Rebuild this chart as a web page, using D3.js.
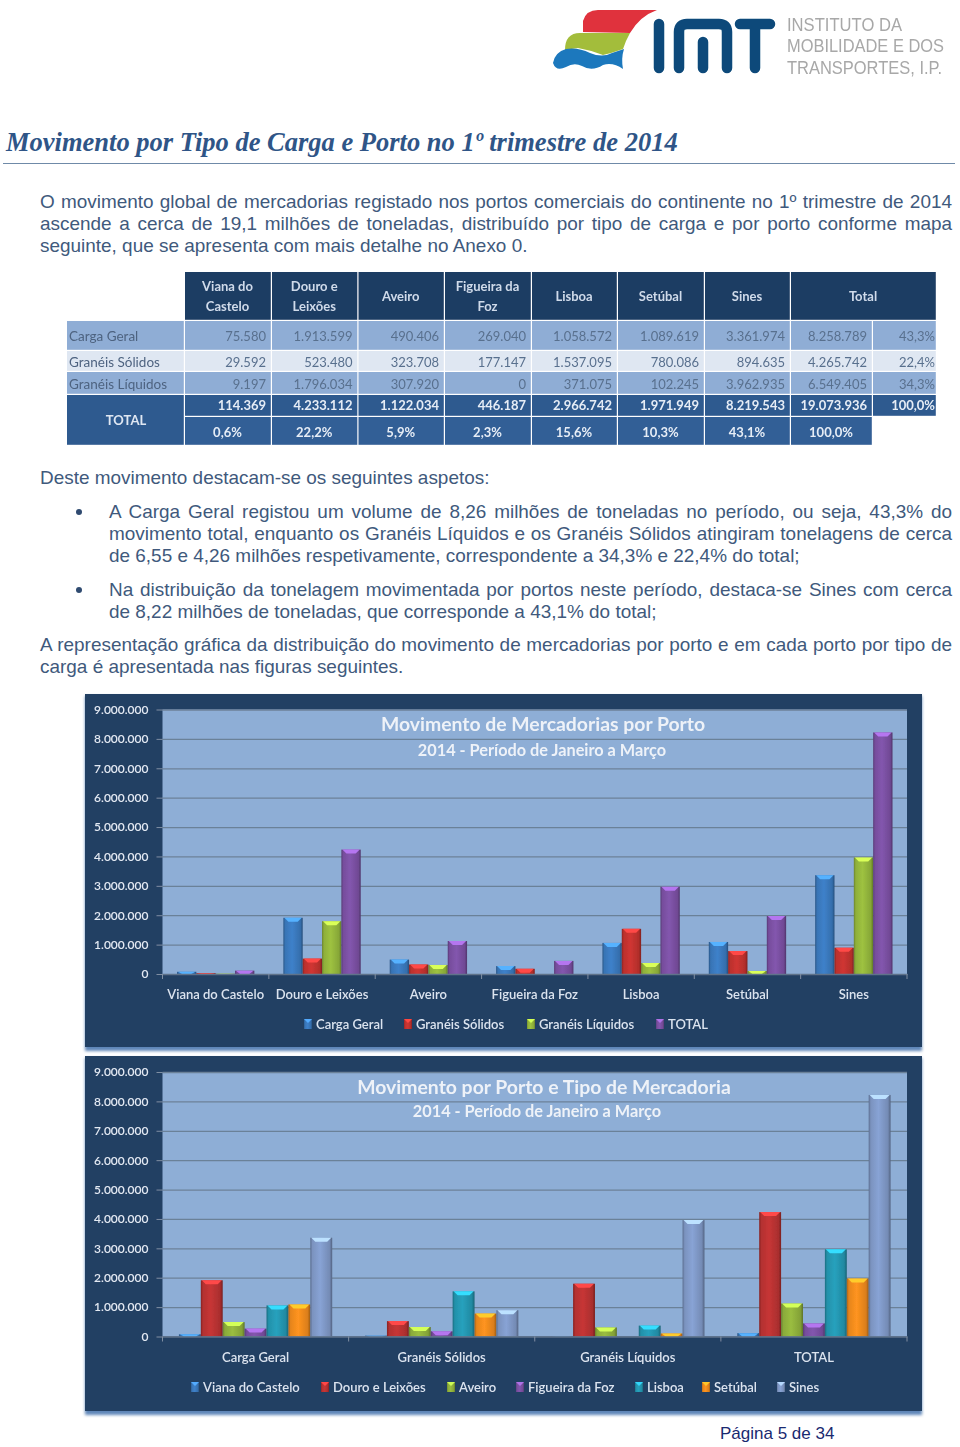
<!DOCTYPE html>
<html><head><meta charset="utf-8">
<script src="https://cdn.jsdelivr.net/npm/d3@7/dist/d3.min.js"></script>
<style>html,body{margin:0;padding:0;background:#fff}svg{display:block}</style>
</head><body><svg id="page" width="960" height="1447"></svg>
<script>
const ports = ["Viana do Castelo","Douro e Leixões","Aveiro","Figueira da Foz","Lisboa","Setúbal","Sines"];
const cargoTypes = ["Carga Geral","Granéis Sólidos","Granéis Líquidos","TOTAL"];
const cargaGeral = [75580,1913599,490406,269040,1058572,1089619,3361974];
const graneisSolidos = [29592,523480,323708,177147,1537095,780086,894635];
const graneisLiquidos = [9197,1796034,307920,0,371075,102245,3962935];
const totalPorPorto = [114369,4233112,1122034,446187,2966742,1971949,8219543];
const rowTotals = [8258789,4265742,6549405,19073936];
const rowShares = ["43,3%","22,4%","34,3%","100,0%"];
const portShares = ["0,6%","22,2%","5,9%","2,3%","15,6%","10,3%","43,1%","100,0%"];
const tableHeaders = [["Viana do","Castelo"],["Douro e","Leixões"],["Aveiro"],["Figueira da","Foz"],["Lisboa"],["Setúbal"],["Sines"],["Total"]];
const yTicks = [0,1000000,2000000,3000000,4000000,5000000,6000000,7000000,8000000,9000000];
const cargoColors = ["#3a78bc","#c2322f","#93b53c","#7a50a2"];
const portColors = ["#3a78bc","#b93232","#8fb03c","#7a50a2","#2496b0","#ee8a1e","#7f98c6"];

const bodyLines = [
 {t:"O movimento global de mercadorias registado nos portos comerciais do continente no 1º trimestre de 2014",x:40,y:208,j:1},
 {t:"ascende a cerca de 19,1 milhões de toneladas, distribuído por tipo de carga e por porto conforme mapa",x:40,y:230,j:1},
 {t:"seguinte, que se apresenta com mais detalhe no Anexo 0.",x:40,y:252},
 {t:"Deste movimento destacam-se os seguintes aspetos:",x:40,y:484},
 {t:"A Carga Geral registou um volume de 8,26 milhões de toneladas no período, ou seja, 43,3% do",x:109,y:518,j:1},
 {t:"movimento total, enquanto os Granéis Líquidos e os Granéis Sólidos atingiram tonelagens de cerca",x:109,y:540,j:1},
 {t:"de 6,55 e 4,26 milhões respetivamente, correspondente a 34,3% e 22,4% do total;",x:109,y:562},
 {t:"Na distribuição da tonelagem movimentada por portos neste período, destaca-se Sines com cerca",x:109,y:596,j:1},
 {t:"de 8,22 milhões de toneladas, que corresponde a 43,1% do total;",x:109,y:618},
 {t:"A representação gráfica da distribuição do movimento de mercadorias por porto e em cada porto por tipo de",x:40,y:651,j:1},
 {t:"carga é apresentada nas figuras seguintes.",x:40,y:673}
];

const svg = d3.select("#page");
const defs = svg.append("defs");
const soft = defs.append("filter").attr("id","soft").attr("x","-2%").attr("y","-2%").attr("width","104%").attr("height","104%");
soft.append("feGaussianBlur").attr("stdDeviation",0.45);
const shadow = defs.append("filter").attr("id","shadow").attr("x","-2%").attr("y","-5%").attr("width","104%").attr("height","110%");
shadow.append("feGaussianBlur").attr("stdDeviation",1.6);
const sans = "'Liberation Sans',Arial,sans-serif", cal = "Lato,'Open Sans',sans-serif";
const fmt = d3.formatLocale({decimal:",",thousands:".",grouping:[3],currency:["",""]}).format(",d");

// logo
const logo = svg.append("g").attr("filter","url(#soft)");
logo.append("path").attr("fill","#e0313c").attr("d","M583,32 L583,21 Q586,10 598,10 L657,10 Q640,16 630,33 Z");
logo.append("path").attr("fill","#a3bd3a").attr("d","M565,50 Q565,33 580,33 L630,33 Q626,40 623,49 Q612,53 603,55 Q590,50 578,48 Z");
logo.append("path").attr("fill","#1b78bd").attr("d","M553,63 Q555,52 566,49 Q578,47 590,53 Q602,58 612,53 L624,49 Q621,58 623,69 Q613,62 603,65 Q592,72 582,66 Q574,62 566,67 Q556,72 553,63 Z");
logo.append("path").attr("fill","none").attr("stroke","#0c4a7a").attr("stroke-width",10.5).attr("stroke-linecap","round").attr("stroke-linejoin","round")
  .attr("d","M659,24 L659,68 M679,68 L679,32 Q679,24 687,24 L719,24 Q727,24 727,32 L727,68 M703,42 L703,68 M740,24 L770,24 M755,24 L755,68");
["INSTITUTO DA","MOBILIDADE E DOS","TRANSPORTES, I.P."].forEach((t,i)=>{
  const w=[115,157,155][i];
  logo.append("text").attr("x",787).attr("y",[31,52,74][i]).attr("font-family",sans).attr("font-size",18).attr("fill","#a8a8a8")
   .attr("textLength",w).attr("lengthAdjust","spacingAndGlyphs").text(t);
});

// heading
svg.append("text").attr("x",6).attr("y",151).attr("font-family","'Liberation Serif',serif").attr("font-weight","bold").attr("font-style","italic")
 .attr("font-size",26.5).attr("fill","#2f5587").text("Movimento por Tipo de Carga e Porto no 1º trimestre de 2014");
svg.append("line").attr("x1",3).attr("x2",955).attr("y1",163.5).attr("y2",163.5).attr("stroke","#6f8aa8").attr("stroke-width",1.2);

// body
bodyLines.forEach(l=>{
  const n = svg.append("text").attr("x",l.x).attr("y",l.y).attr("font-family",sans).attr("font-size",18.95).attr("fill","#40597c").text(l.t);
  if(l.j){
    const gaps=l.t.split(" ").length-1;
    n.attr("word-spacing",(952-l.x-n.node().getComputedTextLength())/gaps);
  }
});
[512,590].forEach(y=>svg.append("circle").attr("cx",79).attr("cy",y).attr("r",3).attr("fill","#2f4a70"));
svg.append("text").attr("x",720).attr("y",1439).attr("font-family",sans).attr("font-size",17).attr("fill","#1a2a70").text("Página 5 de 34");

// table
(function(){
  const xs=[67,185,272,358.5,445,532,618,705,791,873,937];
  const ys=[272,321,351,372,395,417,446];
  const g=svg.append("g").attr("font-family",cal).attr("filter","url(#soft)");
  const cell=(i,j,w,h,fill)=>g.append("rect").attr("x",xs[i]).attr("y",ys[j]).attr("width",xs[i+w]-xs[i]-1.2).attr("height",ys[j+h]-ys[j]-1.2).attr("fill",fill);
  const txt=(x,y,t,o)=>g.append("text").attr("x",x).attr("y",y).attr("font-size",o.s||13).attr("font-weight",o.b?"bold":"normal").attr("text-anchor",o.a||"middle").attr("fill",o.f).attr("dy","0.35em").text(t);
  tableHeaders.forEach((h,i)=>{
    const span=i===7?2:1; cell(i+1,0,span,1,"#1f3d64");
    const cx=(xs[i+1]+xs[i+1+span])/2-1;
    h.forEach((t,k)=>txt(cx,296.5+(h.length===1?0:(k-.5)*19.5),t,{b:1,f:"#cfdbea"}));
  });
  const rows=[cargaGeral,graneisSolidos,graneisLiquidos];
  rows.forEach((r,j)=>{
    const bg=j===1?"#dfe7f2":"#8fadd5", fg="#59708e";
    for(let i=0;i<10;i++) cell(i,j+1,1,1,bg);
    const cy=(ys[j+1]+ys[j+2])/2+0.5;
    txt(69,cy,cargoTypes[j],{a:"start",f:"#4e6380",s:13.5});
    r.forEach((v,i)=>txt(xs[i+2]-6,cy,fmt(v),{a:"end",f:fg}));
    txt(xs[9]-6,cy,fmt(rowTotals[j]),{a:"end",f:fg});
    txt(xs[10]-2,cy,rowShares[j],{a:"end",f:fg});
  });
  cell(0,4,1,2,"#2f5a8f");
  txt(126,420.5,"TOTAL",{b:1,f:"#dfe7f2"});
  for(let i=1;i<10;i++) cell(i,4,1,1,"#2f5a8f");
  for(let i=1;i<9;i++) cell(i,5,1,1,"#335f96");
  totalPorPorto.forEach((v,i)=>txt(xs[i+2]-6,405.5,fmt(v),{a:"end",b:1,f:"#e6edf6"}));
  txt(xs[9]-6,405.5,fmt(rowTotals[3]),{a:"end",b:1,f:"#e6edf6"});
  txt(xs[10]-2,405.5,rowShares[3],{a:"end",b:1,f:"#e6edf6"});
  portShares.forEach((t,i)=>txt((xs[i+1]+xs[i+2])/2-1,432,t,{b:1,f:"#e6edf6"}));
})();

function gradientFor(c,id){
  const base=d3.color(c);
  const gr=defs.append("linearGradient").attr("id",id).attr("x1",0).attr("x2",1).attr("y1",0).attr("y2",0);
  [[0,base.darker(.9)],[.1,base.darker(.1)],[.45,base.brighter(.2)],[.88,base.darker(.25)],[1,base.darker(1.2)]]
   .forEach(([o,k])=>gr.append("stop").attr("offset",o).attr("stop-color",k.formatHex()));
  return `url(#${id})`;
}

function barChart(o){
  const {top,bottom,plotTop,categories,series,names,colors,title,sub,titleCx,subCx,titleY,subY,legendX,legendY,labelY,gapFrac,prefix}=o;
  const pL=85,pR=922;
  svg.append("rect").attr("x",pL).attr("y",top+2).attr("width",pR-pL).attr("height",bottom-top+2).attr("fill","#5f86b8").attr("filter","url(#shadow)");
  const g=svg.append("g").attr("filter","url(#soft)");
  g.append("rect").attr("x",pL).attr("y",top).attr("width",pR-pL).attr("height",bottom-top).attr("fill","#243f63");
  const x=d3.scaleBand().domain(categories).range([162.5,907]);
  const y=d3.scaleLinear().domain([0,9000000]).range([plotTop+264.5,plotTop]);
  g.append("rect").attr("x",162.5).attr("y",plotTop).attr("width",907-162.5).attr("height",264.5).attr("fill","#8eaed6");
  const ax=g.append("g").attr("transform","translate(162.5,0)").call(d3.axisLeft(y).tickValues(yTicks).tickFormat(fmt).tickSize(6).tickPadding(8));
  ax.select(".domain").remove();
  ax.selectAll("text").attr("font-family",cal).attr("font-size",12).attr("font-weight","600").attr("fill","#e3eaf3");
  ax.selectAll("line").attr("stroke","#7f8fa3");
  const grid=g.append("g").attr("transform","translate(162.5,0)").call(d3.axisRight(y).tickValues(yTicks.slice(1)).tickSize(907-162.5).tickFormat(""));
  grid.select(".domain").remove();
  grid.selectAll("line").attr("stroke","#6b8198").attr("stroke-width",1.3);
  g.append("text").attr("x",titleCx).attr("y",titleY).attr("text-anchor","middle").attr("dy","0.35em").attr("font-family",cal).attr("font-weight","bold").attr("font-size",19.4).attr("fill","#eef2f8").text(title);
  g.append("text").attr("x",subCx).attr("y",subY).attr("text-anchor","middle").attr("dy","0.35em").attr("font-family",cal).attr("font-weight","bold").attr("font-size",16.3).attr("fill","#eef2f8").text(sub);
  const inner=d3.scaleBand().domain(d3.range(series.length)).range([0,x.bandwidth()]).paddingOuter(gapFrac).paddingInner(0);
  const fills=colors.map((c,i)=>gradientFor(c,prefix+i));
  series.forEach((vals,si)=>{
    const sg=g.append("g");
    const data=vals.map((v,ci)=>({v,c:categories[ci]})).filter(d=>d.v>0);
    sg.selectAll("rect").data(data).join("rect")
      .attr("x",d=>x(d.c)+inner(si)).attr("width",inner.bandwidth())
      .attr("y",d=>y(d.v)).attr("height",d=>y(0)-y(d.v)).attr("fill",fills[si]);
    sg.selectAll("path").data(data).join("path")
      .attr("fill",d3.color(colors[si]).brighter(1.1).formatHex())
      .attr("d",d=>{
        const l=x(d.c)+inner(si),w=inner.bandwidth(),t=y(d.v),h=Math.min(4,y(0)-t);
        return d3.line()([[l+1,t],[l+w-1,t],[l+w-5,t+h],[l+5,t+h]])+"Z";
      });
  });
  const ab=g.append("g").attr("transform",`translate(0,${y(0)})`).call(d3.axisBottom(x).tickSize(0).tickPadding(labelY-y(0)-4));
  ab.select(".domain").attr("stroke","#5f738a").attr("stroke-width",1.5);
  ab.selectAll("text").attr("font-family",cal).attr("font-size",13).attr("font-weight","600").attr("fill","#dbe4ef");
  g.selectAll(".sep").data(categories.concat("_")).join("line").attr("class","sep")
    .attr("x1",(d,i)=>162.5+i*x.bandwidth()).attr("x2",(d,i)=>162.5+i*x.bandwidth())
    .attr("y1",y(0)).attr("y2",y(0)+5).attr("stroke","#7f8fa3");
  names.forEach((n,i)=>{
    const lx=legendX[i];
    g.append("rect").attr("x",lx-12).attr("y",legendY-5).attr("width",8).attr("height",10).attr("fill",fills[i]);
    g.append("path").attr("fill",d3.color(colors[i]).brighter(1).formatHex()).attr("d",d3.line()([[lx-12,legendY-5],[lx-4,legendY-5],[lx-8,legendY-1]])+"Z");
    g.append("text").attr("x",lx).attr("y",legendY).attr("dy","0.35em").attr("font-family",cal).attr("font-size",13).attr("font-weight","600").attr("fill","#dbe4ef").text(n);
  });
}

barChart({prefix:"a",top:694,bottom:1047,plotTop:709.5,categories:ports,
  series:[cargaGeral,graneisSolidos,graneisLiquidos,totalPorPorto],names:cargoTypes,colors:cargoColors,
  title:"Movimento de Mercadorias por Porto",sub:"2014 - Período de Janeiro a Março",titleCx:543,subCx:542,titleY:724,subY:750,
  legendX:[316,416,539,668],legendY:1024,labelY:994,gapFrac:0.75});

const byCargo=[cargaGeral,graneisSolidos,graneisLiquidos,totalPorPorto];
const portSeries=ports.map((p,i)=>byCargo.map(r=>r[i]));
barChart({prefix:"b",top:1056,bottom:1411,plotTop:1072,categories:cargoTypes,
  series:portSeries,names:ports,colors:portColors,
  title:"Movimento por Porto e Tipo de Mercadoria",sub:"2014 - Período de Janeiro a Março",titleCx:544,subCx:537,titleY:1087,subY:1111,
  legendX:[203,333,459,528,647,714,789],legendY:1387,labelY:1357,gapFrac:0.75});
</script></body></html>
